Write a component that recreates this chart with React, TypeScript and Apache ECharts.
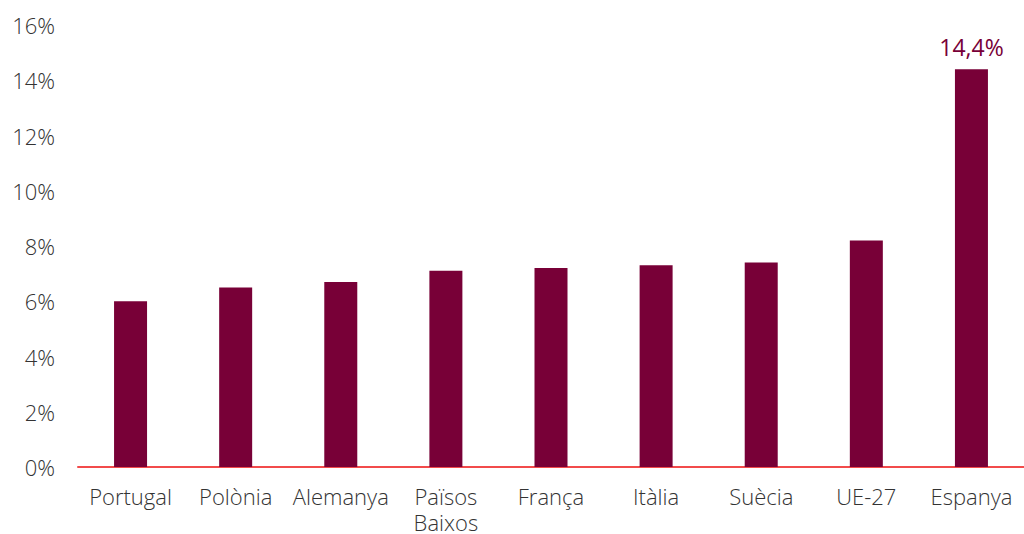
import React, { useEffect, useRef } from "react";
import * as echarts from "echarts";

const categories = ["Portugal", "Polònia", "Alemanya", "Països\nBaixos", "França", "Itàlia", "Suècia", "UE-27", "Espanya"];
const values = [6.0, 6.5, 6.7, 7.1, 7.2, 7.3, 7.4, 8.2, 14.4];
const labelledIndex = 8;

const FONT = "'Open Sans'";

export default function App() {
  const ref = useRef<HTMLDivElement>(null);
  useEffect(() => {
    const chart = echarts.init(ref.current!, null, { renderer: "svg" });
    chart.setOption({
      animation: false,
      grid: { left: 78, right: 0, top: 25, bottom: 67, containLabel: false, outerBoundsMode: "none" },
      xAxis: {
        type: "category",
        data: categories,
        axisLine: { show: true, lineStyle: { color: "#f24b4b", width: 2 } },
        axisTick: { show: false },
        axisLabel: {
          color: "#333",
          fontFamily: FONT,
          fontWeight: 300,
          fontSize: 22,
          lineHeight: 26,
          margin: 16,
          interval: 0,
        },
      },
      yAxis: {
        type: "value",
        min: 0,
        max: 16,
        interval: 2,
        axisLine: { show: false },
        axisTick: { show: false },
        splitLine: { show: false },
        axisLabel: {
          formatter: (v: number) => `${v}%`,
          color: "#333",
          fontFamily: FONT,
          fontWeight: 300,
          fontSize: 22,
          margin: 23,
        },
      },
      series: [
        {
          type: "bar",
          data: values,
          barWidth: 33,
          itemStyle: { color: "#780037" },
          label: {
            show: true,
            position: "top",
            distance: 11,
            color: "#780037",
            fontFamily: FONT,
            fontSize: 23,
            letterSpacing: 1.5,
            formatter: (p: any) =>
              p.dataIndex === labelledIndex ? `${String(p.value).replace(".", ",")}%` : "",
          },
        },
      ],
    });
    return () => chart.dispose();
  }, []);
  return <div ref={ref} style={{ width: 1024, height: 534, position: "absolute", left: 0, top: 0 }} />;
}
